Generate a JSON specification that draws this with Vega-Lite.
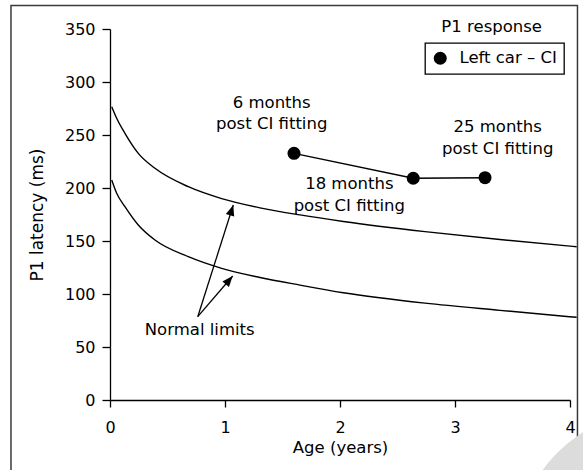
{
  "$schema": "https://vega.github.io/schema/vega-lite/v6.json",
  "width": 460,
  "height": 371,
  "autosize": {"type": "none"},
  "padding": {"left": 110, "top": 29, "right": 13, "bottom": 70},
  "background": "white",
  "datasets": {
    "curves": [
      {"age": 0.015, "lat": 276.7, "curve": "upper"},
      {"age": 0.058, "lat": 265.8, "curve": "upper"},
      {"age": 0.13, "lat": 251.6, "curve": "upper"},
      {"age": 0.246, "lat": 232.7, "curve": "upper"},
      {"age": 0.391, "lat": 218.6, "curve": "upper"},
      {"age": 0.681, "lat": 201.2, "curve": "upper"},
      {"age": 0.971, "lat": 190.0, "curve": "upper"},
      {"age": 1.304, "lat": 181.3, "curve": "upper"},
      {"age": 1.652, "lat": 174.6, "curve": "upper"},
      {"age": 2.029, "lat": 168.4, "curve": "upper"},
      {"age": 2.739, "lat": 158.8, "curve": "upper"},
      {"age": 3.39, "lat": 151.4, "curve": "upper"},
      {"age": 4.058, "lat": 144.6, "curve": "upper"},
      {"age": 0.015, "lat": 207.5, "curve": "lower"},
      {"age": 0.058, "lat": 195.0, "curve": "lower"},
      {"age": 0.13, "lat": 182.4, "curve": "lower"},
      {"age": 0.246, "lat": 165.1, "curve": "lower"},
      {"age": 0.391, "lat": 150.9, "curve": "lower"},
      {"age": 0.681, "lat": 135.2, "curve": "lower"},
      {"age": 0.971, "lat": 124.2, "curve": "lower"},
      {"age": 1.304, "lat": 115.6, "curve": "lower"},
      {"age": 1.652, "lat": 108.4, "curve": "lower"},
      {"age": 2.029, "lat": 101.2, "curve": "lower"},
      {"age": 2.739, "lat": 91.4, "curve": "lower"},
      {"age": 3.39, "lat": 84.6, "curve": "lower"},
      {"age": 4.058, "lat": 78.0, "curve": "lower"}
    ],
    "points": [
      {"age": 1.6, "lat": 232.7, "series": "Left car – CI"},
      {"age": 2.637, "lat": 209.2, "series": "Left car – CI"},
      {"age": 3.261, "lat": 209.7, "series": "Left car – CI"}
    ],
    "notes": [
      {"age": 1.406, "lat": 275.9, "label": "6 months\npost CI fitting"},
      {"age": 2.081, "lat": 198.8, "label": "18 months\npost CI fitting"},
      {"age": 3.371, "lat": 252.5, "label": "25 months\npost CI fitting"},
      {"age": 0.78, "lat": 61.3, "label": "Normal limits"},
      {"age": 3.319, "lat": 346.7, "label": "P1 response"}
    ],
    "arrows": [
      {"tip": "upper", "x0": 0.763, "y0": 78.6, "x1": 1.072, "y1": 184.0},
      {"tip": "lower", "x0": 0.763, "y0": 78.6, "x1": 1.067, "y1": 117.0}
    ]
  },
  "config": {
    "view": {"stroke": null},
    "font": "DejaVu Sans",
    "axis": {
      "grid": false,
      "domainColor": "black",
      "tickColor": "black",
      "domainWidth": 1.3,
      "tickWidth": 1.3,
      "labelColor": "black",
      "titleColor": "black",
      "labelFont": "DejaVu Sans",
      "titleFont": "DejaVu Sans",
      "titleFontWeight": "normal",
      "labelFontSize": 16,
      "labelFlush": false,
      "labelOverlap": false
    },
    "legend": {
      "strokeWidth": 1.3
    }
  },
  "layer": [
    {
      "data": {"name": "curves"},
      "mark": {"type": "line", "color": "black", "strokeWidth": 1.4, "interpolate": "monotone"},
      "encoding": {
        "x": {
          "field": "age", "type": "quantitative",
          "scale": {"domain": [0, 4], "nice": false, "zero": false},
          "axis": {
            "title": "Age (years)",
            "values": [0, 0.5, 1, 1.5, 2, 2.5, 3, 3.5, 4],
            "format": "d",
            "labelExpr": "datum.value % 1 ? '' : datum.label",
            "tickSize": 7,
            "labelPadding": 12,
            "titlePadding": 4,
            "titleFontSize": 16.5,
            "encode": {"ticks": {"update": {"y2": {"signal": "datum.value % 1 ? 4 : 7"}}}}
          }
        },
        "y": {
          "field": "lat", "type": "quantitative",
          "scale": {"domain": [0, 350], "nice": false},
          "axis": {
            "title": "P1 latency (ms)",
            "values": [0, 25, 50, 75, 100, 125, 150, 175, 200, 225, 250, 275, 300, 325, 350],
            "format": "d",
            "labelExpr": "datum.value % 50 ? '' : datum.label",
            "tickSize": 8,
            "labelPadding": 7,
            "titlePadding": 18,
            "titleFontSize": 17,
            "encode": {"ticks": {"update": {"x2": {"signal": "datum.value % 50 ? -5 : -8"}}}}
          }
        },
        "detail": {"field": "curve"}
      }
    },
    {
      "data": {"name": "points"},
      "mark": {"type": "line", "color": "black", "strokeWidth": 1.4},
      "encoding": {
        "x": {"field": "age", "type": "quantitative", "scale": {"domain": [0, 4], "nice": false, "zero": false}},
        "y": {"field": "lat", "type": "quantitative", "scale": {"domain": [0, 350], "nice": false}}
      }
    },
    {
      "data": {"name": "points"},
      "mark": {"type": "circle", "size": 169, "opacity": 1},
      "encoding": {
        "x": {"field": "age", "type": "quantitative", "scale": {"domain": [0, 4], "nice": false, "zero": false}},
        "y": {"field": "lat", "type": "quantitative", "scale": {"domain": [0, 350], "nice": false}},
        "color": {
          "field": "series", "type": "nominal",
          "scale": {"range": ["black"]},
          "legend": {
            "title": null,
            "orient": "none",
            "legendX": 315,
            "legendY": 14,
            "strokeColor": "black",
            "padding": 7,
            "symbolSize": 169,
            "symbolType": "circle",
            "symbolStrokeWidth": 0,
            "labelFontSize": 16.5,
            "labelFont": "DejaVu Sans",
            "labelColor": "black",
            "labelOffset": 11
          }
        }
      }
    },
    {
      "data": {"name": "notes"},
      "mark": {"type": "text", "font": "DejaVu Sans", "fontSize": 16.5, "align": "center", "baseline": "alphabetic", "lineBreak": "\n", "lineHeight": 21.5, "color": "black"},
      "encoding": {
        "x": {"field": "age", "type": "quantitative", "scale": {"domain": [0, 4], "nice": false, "zero": false}},
        "y": {"field": "lat", "type": "quantitative", "scale": {"domain": [0, 350], "nice": false}},
        "text": {"field": "label"}
      }
    },
    {
      "data": {"name": "arrows"},
      "mark": {"type": "rule", "color": "black", "strokeWidth": 1.3},
      "encoding": {
        "x": {"field": "x0", "type": "quantitative", "scale": {"domain": [0, 4], "nice": false, "zero": false}},
        "y": {"field": "y0", "type": "quantitative", "scale": {"domain": [0, 350], "nice": false}},
        "x2": {"field": "x1"},
        "y2": {"field": "y1"}
      }
    },
    {
      "data": {"name": "arrows"},
      "transform": [{"filter": "datum.tip == 'upper'"}],
      "mark": {"type": "point", "shape": "M0,0L-0.5,1.25L0.5,1.25Z", "size": 300, "filled": true, "opacity": 1, "color": "black", "angle": 17.5},
      "encoding": {
        "x": {"field": "x1", "type": "quantitative", "scale": {"domain": [0, 4], "nice": false, "zero": false}},
        "y": {"field": "y1", "type": "quantitative", "scale": {"domain": [0, 350], "nice": false}}
      }
    },
    {
      "data": {"name": "arrows"},
      "transform": [{"filter": "datum.tip == 'lower'"}],
      "mark": {"type": "point", "shape": "M0,0L-0.5,1.25L0.5,1.25Z", "size": 300, "filled": true, "opacity": 1, "color": "black", "angle": 40.5},
      "encoding": {
        "x": {"field": "x1", "type": "quantitative", "scale": {"domain": [0, 4], "nice": false, "zero": false}},
        "y": {"field": "y1", "type": "quantitative", "scale": {"domain": [0, 350], "nice": false}}
      }
    },
    {
      "data": {"values": [{}]},
      "mark": {"type": "rect", "fill": null, "stroke": "#3a3a3a", "strokeWidth": 1.5},
      "encoding": {
        "x": {"datum": -0.861, "type": "quantitative", "scale": {"domain": [0, 4], "nice": false, "zero": false}},
        "x2": {"datum": 4.065},
        "y": {"datum": 372.2, "type": "quantitative", "scale": {"domain": [0, 350], "nice": false}},
        "y2": {"datum": -70}
      }
    },
    {
      "data": {"values": [{}]},
      "mark": {"type": "point", "shape": "circle", "size": 84100, "filled": true, "opacity": 1, "color": "#dcdcdc", "strokeWidth": 0},
      "encoding": {
        "x": {"datum": 4.783, "type": "quantitative", "scale": {"domain": [0, 4], "nice": false, "zero": false}},
        "y": {"datum": -146.2, "type": "quantitative", "scale": {"domain": [0, 350], "nice": false}}
      }
    }
  ]
}
